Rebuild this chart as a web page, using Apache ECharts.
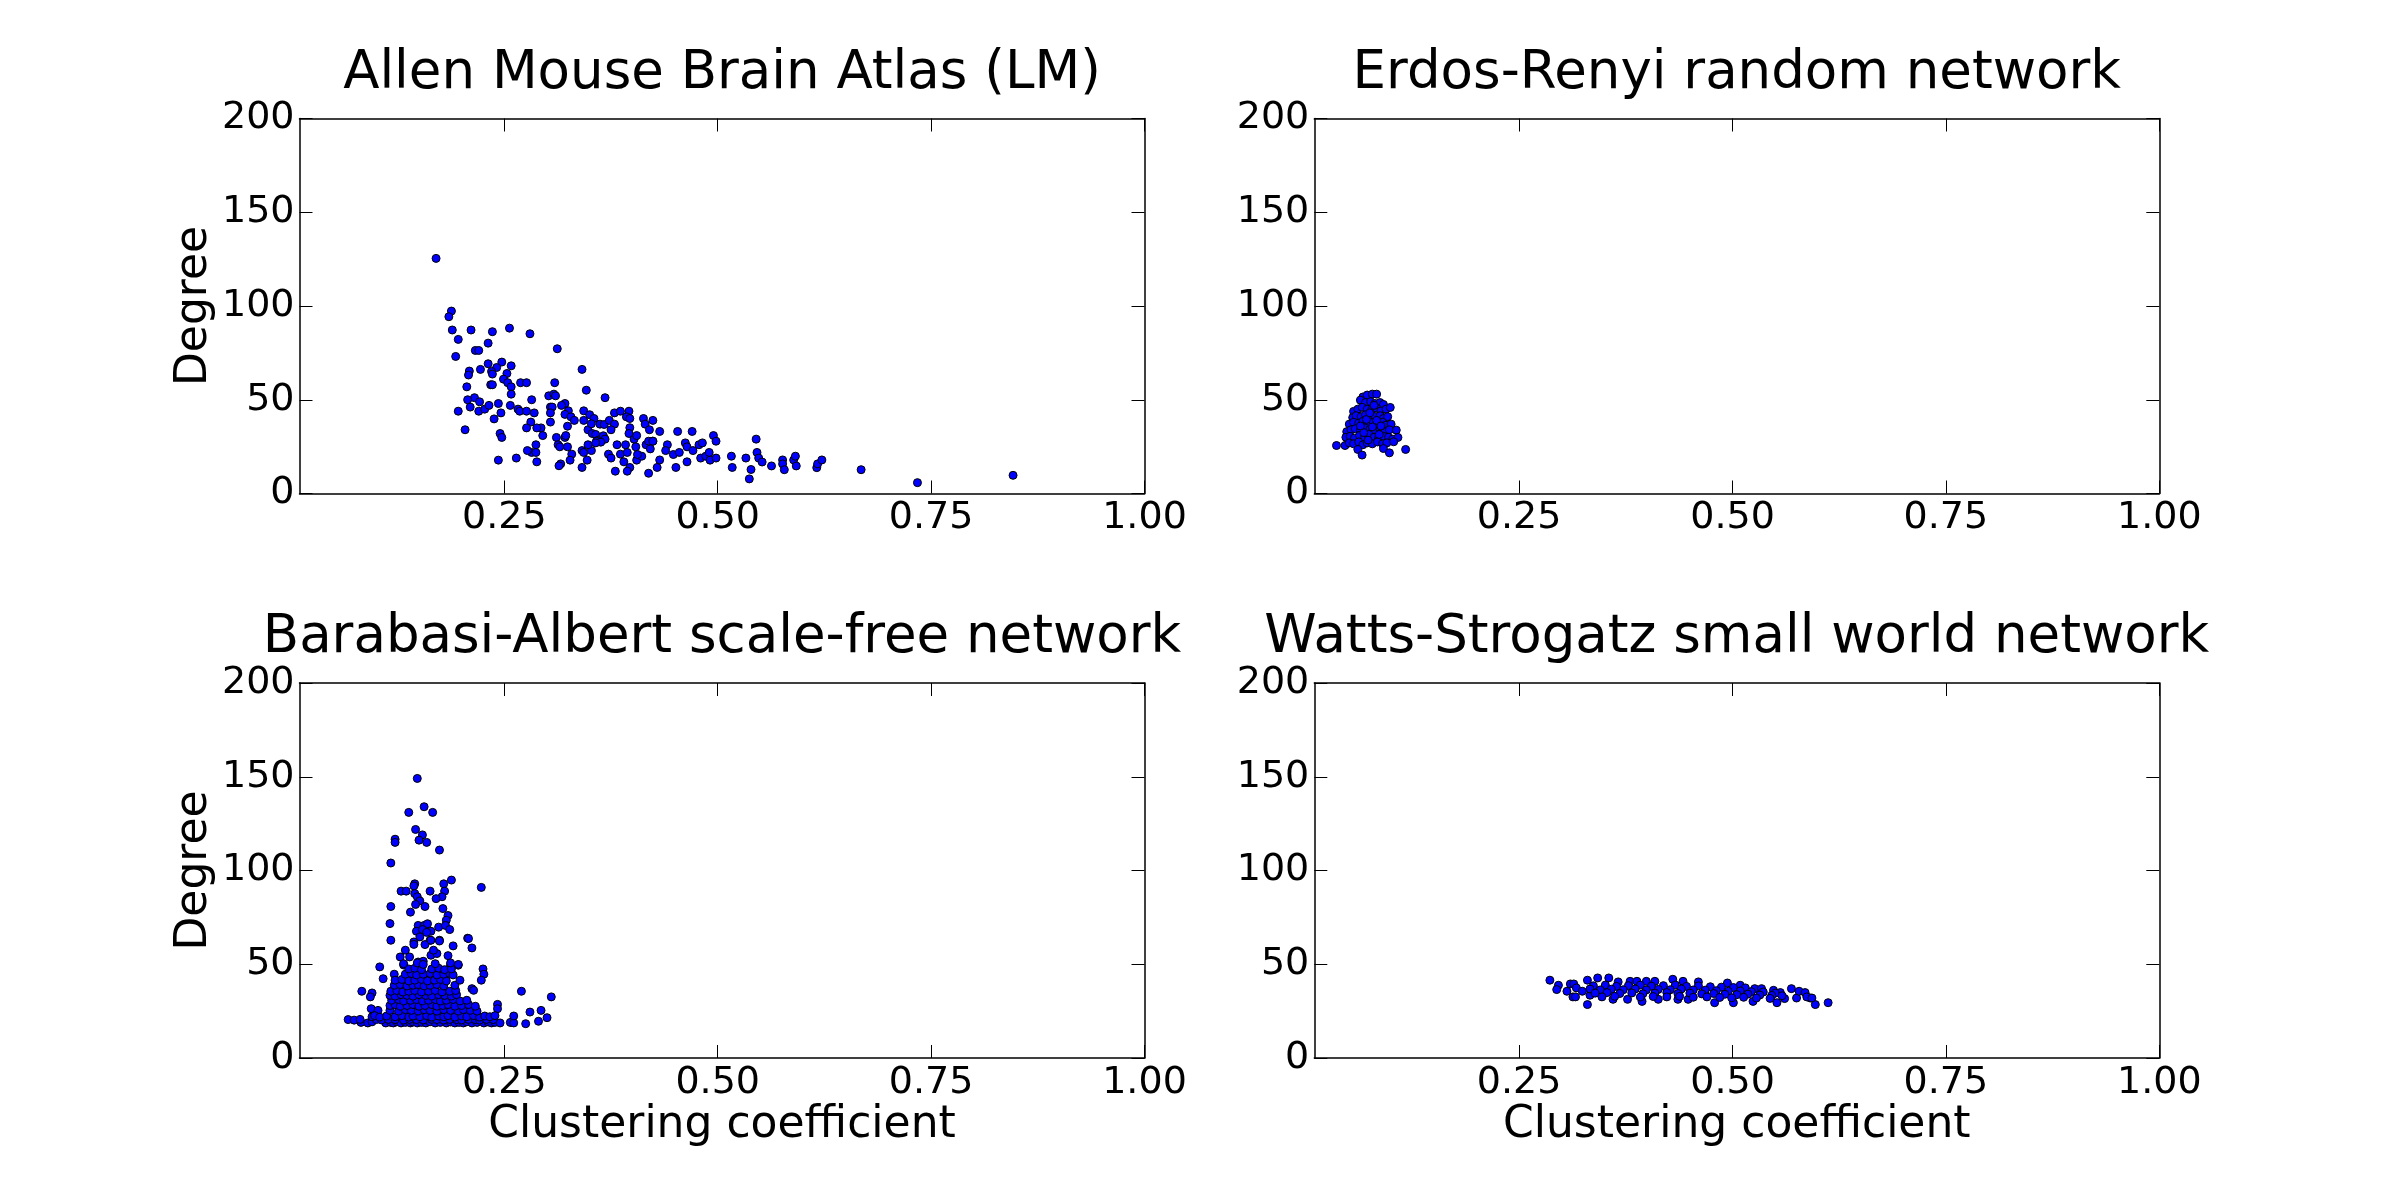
<!DOCTYPE html>
<html>
<head>
<meta charset="utf-8">
<script src="https://cdn.jsdelivr.net/npm/echarts@6/dist/echarts.min.js"></script>
<style>
  html, body { margin: 0; padding: 0; background: #fff; }
  #main { width: 2400px; height: 1177px; }
</style>
</head>
<body>
<div id="main"></div>
<script>
// panel titles
var titles = [
  'Allen Mouse Brain Atlas (LM)',
  'Erdos-Renyi random network',
  'Barabasi-Albert scale-free network',
  'Watts-Strogatz small world network'
];
var xTicks = [0.25, 0.5, 0.75, 1.0];
var yTicks = [0, 50, 100, 150, 200];

// [clustering coefficient, degree]
var allenData = [
  [0.170,125.4],[0.188,97.3],[0.185,94.3],[0.189,87.2],[0.211,87.2],[0.236,86.3],[0.256,88.2],[0.280,85.2],
  [0.196,82.2],[0.231,80.2],[0.216,76.3],[0.220,76.3],[0.193,73.1],[0.312,77.2],[0.341,66.2],[0.231,69.2],
  [0.247,70.1],[0.241,67.2],[0.258,68.1],[0.235,65.1],[0.236,63.7],[0.222,66.2],[0.209,65.3],[0.208,63.2],
  [0.253,64.0],[0.249,61.0],[0.254,59.1],[0.258,56.9],[0.206,56.9],[0.234,58.0],[0.236,58.0],[0.269,59.1],
  [0.276,59.1],[0.309,59.1],[0.346,55.1],[0.258,53.0],[0.302,52.1],[0.308,53.0],[0.310,52.1],[0.368,51.1],
  [0.215,51.1],[0.207,50.0],[0.221,48.9],[0.282,50.0],[0.210,46.1],[0.196,43.9],[0.220,43.9],[0.227,45.0],
  [0.232,47.0],[0.243,48.0],[0.246,43.0],[0.257,47.0],[0.266,45.0],[0.268,43.9],[0.276,43.9],[0.285,43.0],
  [0.304,46.1],[0.306,46.1],[0.304,43.0],[0.321,48.0],[0.317,47.0],[0.325,44.1],[0.321,42.2],[0.328,40.9],
  [0.332,39.0],[0.238,39.8],[0.281,38.1],[0.304,38.1],[0.324,35.9],[0.343,44.1],[0.343,39.0],[0.350,42.0],
  [0.355,40.0],[0.348,34.0],[0.352,37.2],[0.353,32.0],[0.362,37.0],[0.367,36.8],[0.357,31.5],[0.360,28.5],
  [0.366,30.8],[0.368,29.0],[0.373,39.0],[0.379,37.0],[0.375,34.0],[0.379,43.0],[0.386,43.9],[0.396,43.9],
  [0.393,40.9],[0.397,40.0],[0.397,35.1],[0.396,32.0],[0.402,29.0],[0.405,30.9],[0.404,24.9],[0.413,40.0],
  [0.415,37.0],[0.420,34.0],[0.424,39.0],[0.432,33.1],[0.424,27.9],[0.453,33.1],[0.470,33.1],[0.495,30.9],
  [0.498,27.9],[0.545,29.0],[0.293,35.0],[0.288,35.0],[0.276,35.0],[0.295,30.9],[0.204,34.0],[0.245,32.0],
  [0.247,29.9],[0.311,29.9],[0.321,29.9],[0.322,30.9],[0.313,26.0],[0.315,24.9],[0.324,24.9],[0.287,26.0],
  [0.282,21.9],[0.287,21.9],[0.277,22.9],[0.329,21.0],[0.327,17.8],[0.316,15.8],[0.314,14.8],[0.288,16.9],
  [0.264,18.9],[0.243,17.8],[0.341,22.9],[0.343,21.9],[0.347,17.8],[0.352,22.9],[0.341,13.9],[0.348,26.0],
  [0.358,27.9],[0.363,27.4],[0.357,27.0],[0.372,21.0],[0.375,18.9],[0.380,11.9],[0.382,26.0],[0.386,21.0],
  [0.390,16.9],[0.392,26.0],[0.394,21.9],[0.397,13.9],[0.394,11.9],[0.405,17.8],[0.411,19.9],[0.406,20.8],
  [0.416,26.0],[0.419,27.9],[0.421,23.8],[0.424,27.9],[0.419,10.8],[0.429,13.9],[0.432,17.9],[0.441,26.0],
  [0.439,22.9],[0.448,20.8],[0.451,13.9],[0.455,21.9],[0.462,27.0],[0.464,24.9],[0.471,22.9],[0.464,16.9],
  [0.478,26.0],[0.482,27.0],[0.480,18.9],[0.486,19.9],[0.491,17.8],[0.490,21.9],[0.498,18.9],[0.516,19.9],
  [0.517,13.9],[0.533,18.9],[0.539,12.8],[0.537,7.8],[0.546,21.9],[0.548,18.9],[0.552,16.8],[0.563,14.7],
  [0.576,17.9],[0.576,15.8],[0.578,12.7],[0.589,17.9],[0.591,19.9],[0.592,14.7],[0.616,13.8],[0.617,15.8],
  [0.622,17.9],[0.668,12.7],[0.734,5.8],[0.846,9.7]
];

var erData = [
  [0.067,51.5],[0.072,52.5],[0.078,53],[0.083,53],
  [0.064,49.8],[0.070,48.5],[0.076,49],[0.081,48],[0.087,48.5],[0.091,47.5],
  [0.056,43.8],[0.061,45],[0.066,46],[0.072,45],[0.077,44.5],[0.083,45.5],[0.088,44],[0.094,45],[0.099,45.9],
  [0.055,40.5],[0.059,41.5],[0.065,41],[0.070,42],[0.076,40.5],[0.081,41],[0.087,41.5],[0.091,40],[0.096,41],
  [0.051,37],[0.056,38],[0.062,37.5],[0.067,38.5],[0.073,37],[0.079,38],[0.085,37.5],[0.090,38],[0.094,36.5],[0.100,37],
  [0.048,33],[0.053,34],[0.058,34.5],[0.064,33.5],[0.069,35],[0.075,34],[0.081,33.5],[0.087,34.5],[0.093,33],[0.098,34],[0.106,33.8],
  [0.047,30],[0.052,30.5],[0.057,29.5],[0.063,31],[0.069,30],[0.074,31.5],[0.080,30],[0.085,29],[0.091,30.5],[0.097,30],[0.102,29],[0.108,29.9],
  [0.036,25.6],[0.046,25.6],[0.051,27],[0.056,26.5],[0.062,27.5],[0.067,26],[0.072,27],[0.078,26.5],[0.084,27.5],[0.090,26.5],[0.095,27],[0.103,27.6],
  [0.061,23.5],[0.066,20.5],[0.091,24],[0.098,21.7],[0.117,23.5],
  [0.071,39.5],[0.078,35.5],[0.083,39],[0.075,43],[0.068,32.5],[0.086,31.5],[0.080,47],[0.073,28.5],[0.088,36],[0.064,36]
];

var baData = [
  [0.148,149.1],[0.156,134],[0.138,131],[0.166,131],[0.146,121.9],[0.154,119],[0.122,116.7],[0.122,115],
  [0.150,116.2],[0.159,115],[0.174,110.9],[0.117,104],[0.188,94.9],[0.223,91],[0.179,92.9],[0.145,92.9],
  [0.144,91.8],[0.129,89],[0.135,89],[0.163,89],[0.180,89],[0.177,86],[0.170,85],[0.145,87.7],[0.148,86],
  [0.151,83.8],[0.117,80.8],[0.146,81.9],[0.157,80.8],[0.178,79.7],[0.140,77.8],[0.184,76],[0.182,73.5],
  [0.116,71.7],[0.149,70.7],[0.156,70.7],[0.160,71.6],[0.173,69.8],[0.181,70.7],[0.186,68.5],[0.147,67.6],
  [0.154,68.5],[0.164,67.6],[0.207,63.9],[0.117,62.8],[0.144,61.9],[0.163,62.8],[0.174,62.8],
  [0.151,64.6],[0.159,67],[0.144,60.6],[0.157,60.5],[0.164,62.8],[0.174,62.4],[0.190,59.8],[0.208,63.7],
  [0.212,58.7],[0.134,57.5],[0.128,53.9],[0.139,53.9],[0.149,51.2],[0.155,51.6],[0.164,54.8],[0.171,55.7],
  [0.167,57.5],[0.184,54.6],[0.187,49.5],[0.196,49.5],[0.104,48.6],[0.132,49.6],[0.225,47.5],[0.226,44.7],
  [0.223,41.5],[0.108,42.3],[0.121,44.7],[0.083,35.6],[0.095,34.7],[0.093,32.6],[0.212,37],[0.214,36.1],
  [0.242,28.6],[0.242,26.3],[0.094,26.3],[0.102,25.4],
  [0.270,35.6],[0.305,32.6],[0.280,24.5],[0.293,25.4],[0.300,21.5],[0.259,18.9],[0.275,18.3],[0.290,19.6],
  // bottom band
  [0.082,19],[0.090,18.7],[0.095,19.3],[0.111,18.7],[0.117,19],[0.120,18.7],[0.124,19.3],[0.129,18.7],
  [0.134,19],[0.140,18.7],[0.143,19.2],[0.148,18.7],[0.153,19],[0.158,18.7],[0.163,19.3],[0.169,18.7],
  [0.175,19],[0.182,18.7],[0.187,19.2],[0.192,18.7],[0.197,19],[0.202,18.7],[0.206,19.3],[0.212,18.7],
  [0.218,19],[0.226,18.7],[0.231,19.2],[0.235,18.7],[0.239,19],[0.245,18.7],[0.257,19],[0.261,18.7],
  [0.067,20.5],[0.074,20.2],[0.081,20.6],[0.100,20.5],[0.106,20.3],[0.114,20.6],[0.122,20.5],[0.132,20.2],
  [0.139,20.6],[0.147,20.5],[0.155,20.3],[0.165,20.6],[0.171,20.5],[0.179,20.2],[0.186,20.6],[0.194,20.5],
  [0.200,20.3],[0.208,20.6],[0.216,20.5],[0.221,20.2],[0.229,20.6],[0.237,20.5],
  [0.095,22],[0.098,22.6],[0.104,21.8],[0.112,22.4],[0.122,22],[0.130,22.6],[0.138,21.8],[0.143,22.4],
  [0.151,22],[0.159,22.6],[0.165,21.8],[0.173,22.4],[0.179,22],[0.184,22.6],[0.192,21.8],[0.200,22.4],
  [0.206,22],[0.214,22.6],[0.221,21.8],[0.227,22.4],[0.233,22],[0.239,22.6],[0.261,22.4],
  [0.116,25.4],[0.126,25],[0.134,25.8],[0.141,25.4],[0.149,25],[0.156,25.8],[0.163,25.4],[0.171,25],
  [0.179,25.8],[0.187,25.4],[0.196,25],[0.202,25.8],[0.210,25.4],[0.218,25],
  [0.116,28],[0.122,28.5],[0.128,27.6],[0.136,28],[0.143,28.5],[0.150,27.6],[0.157,28],[0.165,28.5],
  [0.171,27.6],[0.178,28],[0.184,28.5],[0.192,27.6],[0.200,28],[0.208,28.5],[0.216,27.6],
  [0.118,30.8],[0.126,31.2],[0.132,30.4],[0.140,30.8],[0.147,31.2],[0.154,30.4],[0.161,30.8],[0.169,31.2],
  [0.175,30.4],[0.182,30.8],[0.190,31.2],[0.198,30.4],[0.206,30.8],
  [0.116,33.4],[0.122,33],[0.129,33.8],[0.136,33.4],[0.143,33],[0.150,33.8],[0.158,33.4],[0.165,33],
  [0.173,33.8],[0.180,33.4],[0.188,33],[0.194,33.8],
  [0.117,35.6],[0.124,36],[0.131,35.2],[0.138,35.6],[0.145,36],[0.153,35.2],[0.161,35.6],[0.169,36],
  [0.177,35.2],[0.186,35.6],[0.193,36],
  [0.121,38.8],[0.128,39.2],[0.136,38.4],[0.143,38.8],[0.149,39.2],[0.156,38.4],[0.163,38.8],[0.171,39.2],
  [0.179,38.4],[0.192,38.8],
  [0.122,41.5],[0.130,41.9],[0.138,41.1],[0.145,41.5],[0.153,41.9],[0.160,41.1],[0.168,41.5],[0.175,41.9],
  [0.182,41.1],[0.198,41.5],
  [0.134,44.7],[0.141,45.1],[0.147,44.3],[0.155,44.7],[0.163,45.1],[0.171,44.3],[0.179,44.7],[0.186,45.1],
  [0.190,44.3],
  [0.138,47.5],[0.145,47.9],[0.153,47.1],[0.165,47.5],[0.173,47.9],[0.180,47.1],[0.188,47.5],
  [0.132,50.3],[0.148,50.7],[0.155,49.9],[0.169,50.3],[0.187,50.7],[0.196,49.9]
];

var wsData = [
  [0.286,41.5],[0.296,38.8],[0.294,36.5],[0.306,35.6],[0.310,39.5],[0.314,39.5],[0.317,37.4],[0.313,32.6],
  [0.316,32.6],[0.324,35.6],[0.330,28.5],[0.330,41.5],[0.342,42.7],[0.355,42.7],
  [0.333,33.5],[0.347,33.5],[0.360,31.3],[0.377,31.3],[0.394,30.2],[0.413,31.3],[0.436,31.3],[0.448,31.3],
  [0.479,29.5],[0.501,29.5],[0.524,30.2],[0.552,29.5],[0.561,31.7],[0.575,32.0],[0.591,32.0],[0.597,28.5],
  [0.612,29.5],
  [0.366,40.6],[0.380,40.9],[0.388,40.9],[0.399,40.9],[0.409,40.9],[0.430,42.0],[0.442,40.9],[0.460,40.6],
  [0.494,40.0],[0.509,38.8],[0.526,37.0],[0.534,37.0],[0.548,36.1],[0.556,34.9],[0.569,37.0],[0.578,35.6],
  [0.585,34.9],[0.587,32.6],[0.593,32.0],
  [0.337,38.5],[0.351,38.9],[0.364,38.2],[0.378,38.6],[0.392,38.9],[0.405,38.3],[0.419,38.6],[0.433,38.9],
  [0.446,38.2],[0.460,38.5],[0.474,38.0],[0.487,37.8],[0.501,37.6],[0.515,37.4],
  [0.333,36.8],[0.345,36.3],[0.358,36.7],[0.372,36.4],[0.386,36.8],[0.399,36.3],[0.413,36.6],[0.427,36.4],
  [0.440,36.8],[0.454,36.3],[0.468,36.2],[0.481,35.9],[0.495,35.6],[0.509,35.8],[0.522,35.4],[0.536,35.2],
  [0.550,34.6],
  [0.339,34.6],[0.353,34.9],[0.368,34.4],[0.382,34.7],[0.395,34.3],[0.409,34.6],[0.423,34.9],[0.436,34.4],
  [0.450,34.6],[0.464,34.2],[0.478,34.4],[0.491,34.0],[0.505,33.8],[0.518,34.1],[0.532,33.6],[0.546,33.4],
  [0.558,33.2],
  [0.347,32.6],[0.362,32.9],[0.392,32.5],[0.407,32.8],[0.423,32.6],[0.438,32.9],[0.454,32.4],[0.470,32.6],
  [0.485,32.3],[0.499,32.1],[0.513,32.4],[0.528,32.0],[0.544,31.8]
];

var panelData = [allenData, erData, baData, wsData];

var FONT = 'DejaVu Sans';
var PLOT_W = 845, PLOT_H = 375;
var lefts = [299.5, 1314.3, 299.5, 1314.3];
var tops = [118.5, 118.5, 683, 683];

var chart = echarts.init(document.getElementById('main'), null, { renderer: 'canvas' });

var grids = [], xAxes = [], yAxes = [], series = [], titleList = [];
var lineStyle = { color: '#000', width: 1.5 };
var tickStyle = { color: '#000', width: 1 };

for (var i = 0; i < 4; i++) {
  grids.push({ left: lefts[i], top: tops[i], width: PLOT_W, height: PLOT_H, containLabel: false });

  titleList.push({
    text: titles[i],
    left: lefts[i] + PLOT_W / 2,
    top: tops[i] - 71,
    textAlign: 'center',
    padding: 0,
    textStyle: { fontFamily: FONT, fontSize: 53, fontWeight: 'normal', color: '#000' }
  });

  var bottomRow = i >= 2, leftCol = i % 2 === 0;
  xAxes.push({
    gridIndex: i, type: 'value', position: 'bottom', min: 0.01, max: 1,
    axisLine: { show: true, onZero: false, lineStyle: lineStyle },
    axisTick: { show: true, inside: true, length: 13, customValues: xTicks, lineStyle: tickStyle },
    axisLabel: {
      customValues: xTicks, margin: 6, color: '#000', fontFamily: FONT, fontSize: 38,
      formatter: function (v) { return v.toFixed(2); }
    },
    splitLine: { show: false },
    name: bottomRow ? 'Clustering coefficient' : '',
    nameLocation: 'middle', nameGap: 46,
    nameTextStyle: { fontFamily: FONT, fontSize: 44, color: '#000' }
  });
  // top side of the frame with inward ticks
  xAxes.push({
    gridIndex: i, type: 'value', position: 'top', min: 0.01, max: 1,
    axisLine: { show: true, onZero: false, lineStyle: lineStyle },
    axisTick: { show: true, inside: true, length: 13, customValues: xTicks, lineStyle: tickStyle },
    axisLabel: { show: false },
    splitLine: { show: false }
  });

  yAxes.push({
    gridIndex: i, type: 'value', position: 'left', min: 0, max: 200, interval: 50,
    axisLine: { show: true, onZero: false, lineStyle: lineStyle },
    axisTick: { show: true, inside: true, length: 13, lineStyle: tickStyle },
    axisLabel: { margin: 5, color: '#000', fontFamily: FONT, fontSize: 38 },
    splitLine: { show: false },
    name: leftCol ? 'Degree' : '',
    nameLocation: 'middle', nameRotate: 90, nameGap: 83,
    nameTextStyle: { fontFamily: FONT, fontSize: 44, color: '#000' }
  });
  yAxes.push({
    gridIndex: i, type: 'value', position: 'right', min: 0, max: 200, interval: 50,
    axisLine: { show: true, onZero: false, lineStyle: lineStyle },
    axisTick: { show: true, inside: true, length: 13, lineStyle: tickStyle },
    axisLabel: { show: false },
    splitLine: { show: false }
  });

  series.push({
    type: 'scatter',
    xAxisIndex: 2 * i,
    yAxisIndex: 2 * i,
    data: panelData[i],
    symbol: 'circle',
    symbolSize: 8,
    itemStyle: { color: '#0000ff', borderColor: '#000', borderWidth: 1, opacity: 1 }
  });
}

var option = {
  backgroundColor: '#fff',
  animation: false,
  title: titleList,
  grid: grids,
  xAxis: xAxes,
  yAxis: yAxes,
  series: series
};

chart.setOption(option);
</script>
</body>
</html>
